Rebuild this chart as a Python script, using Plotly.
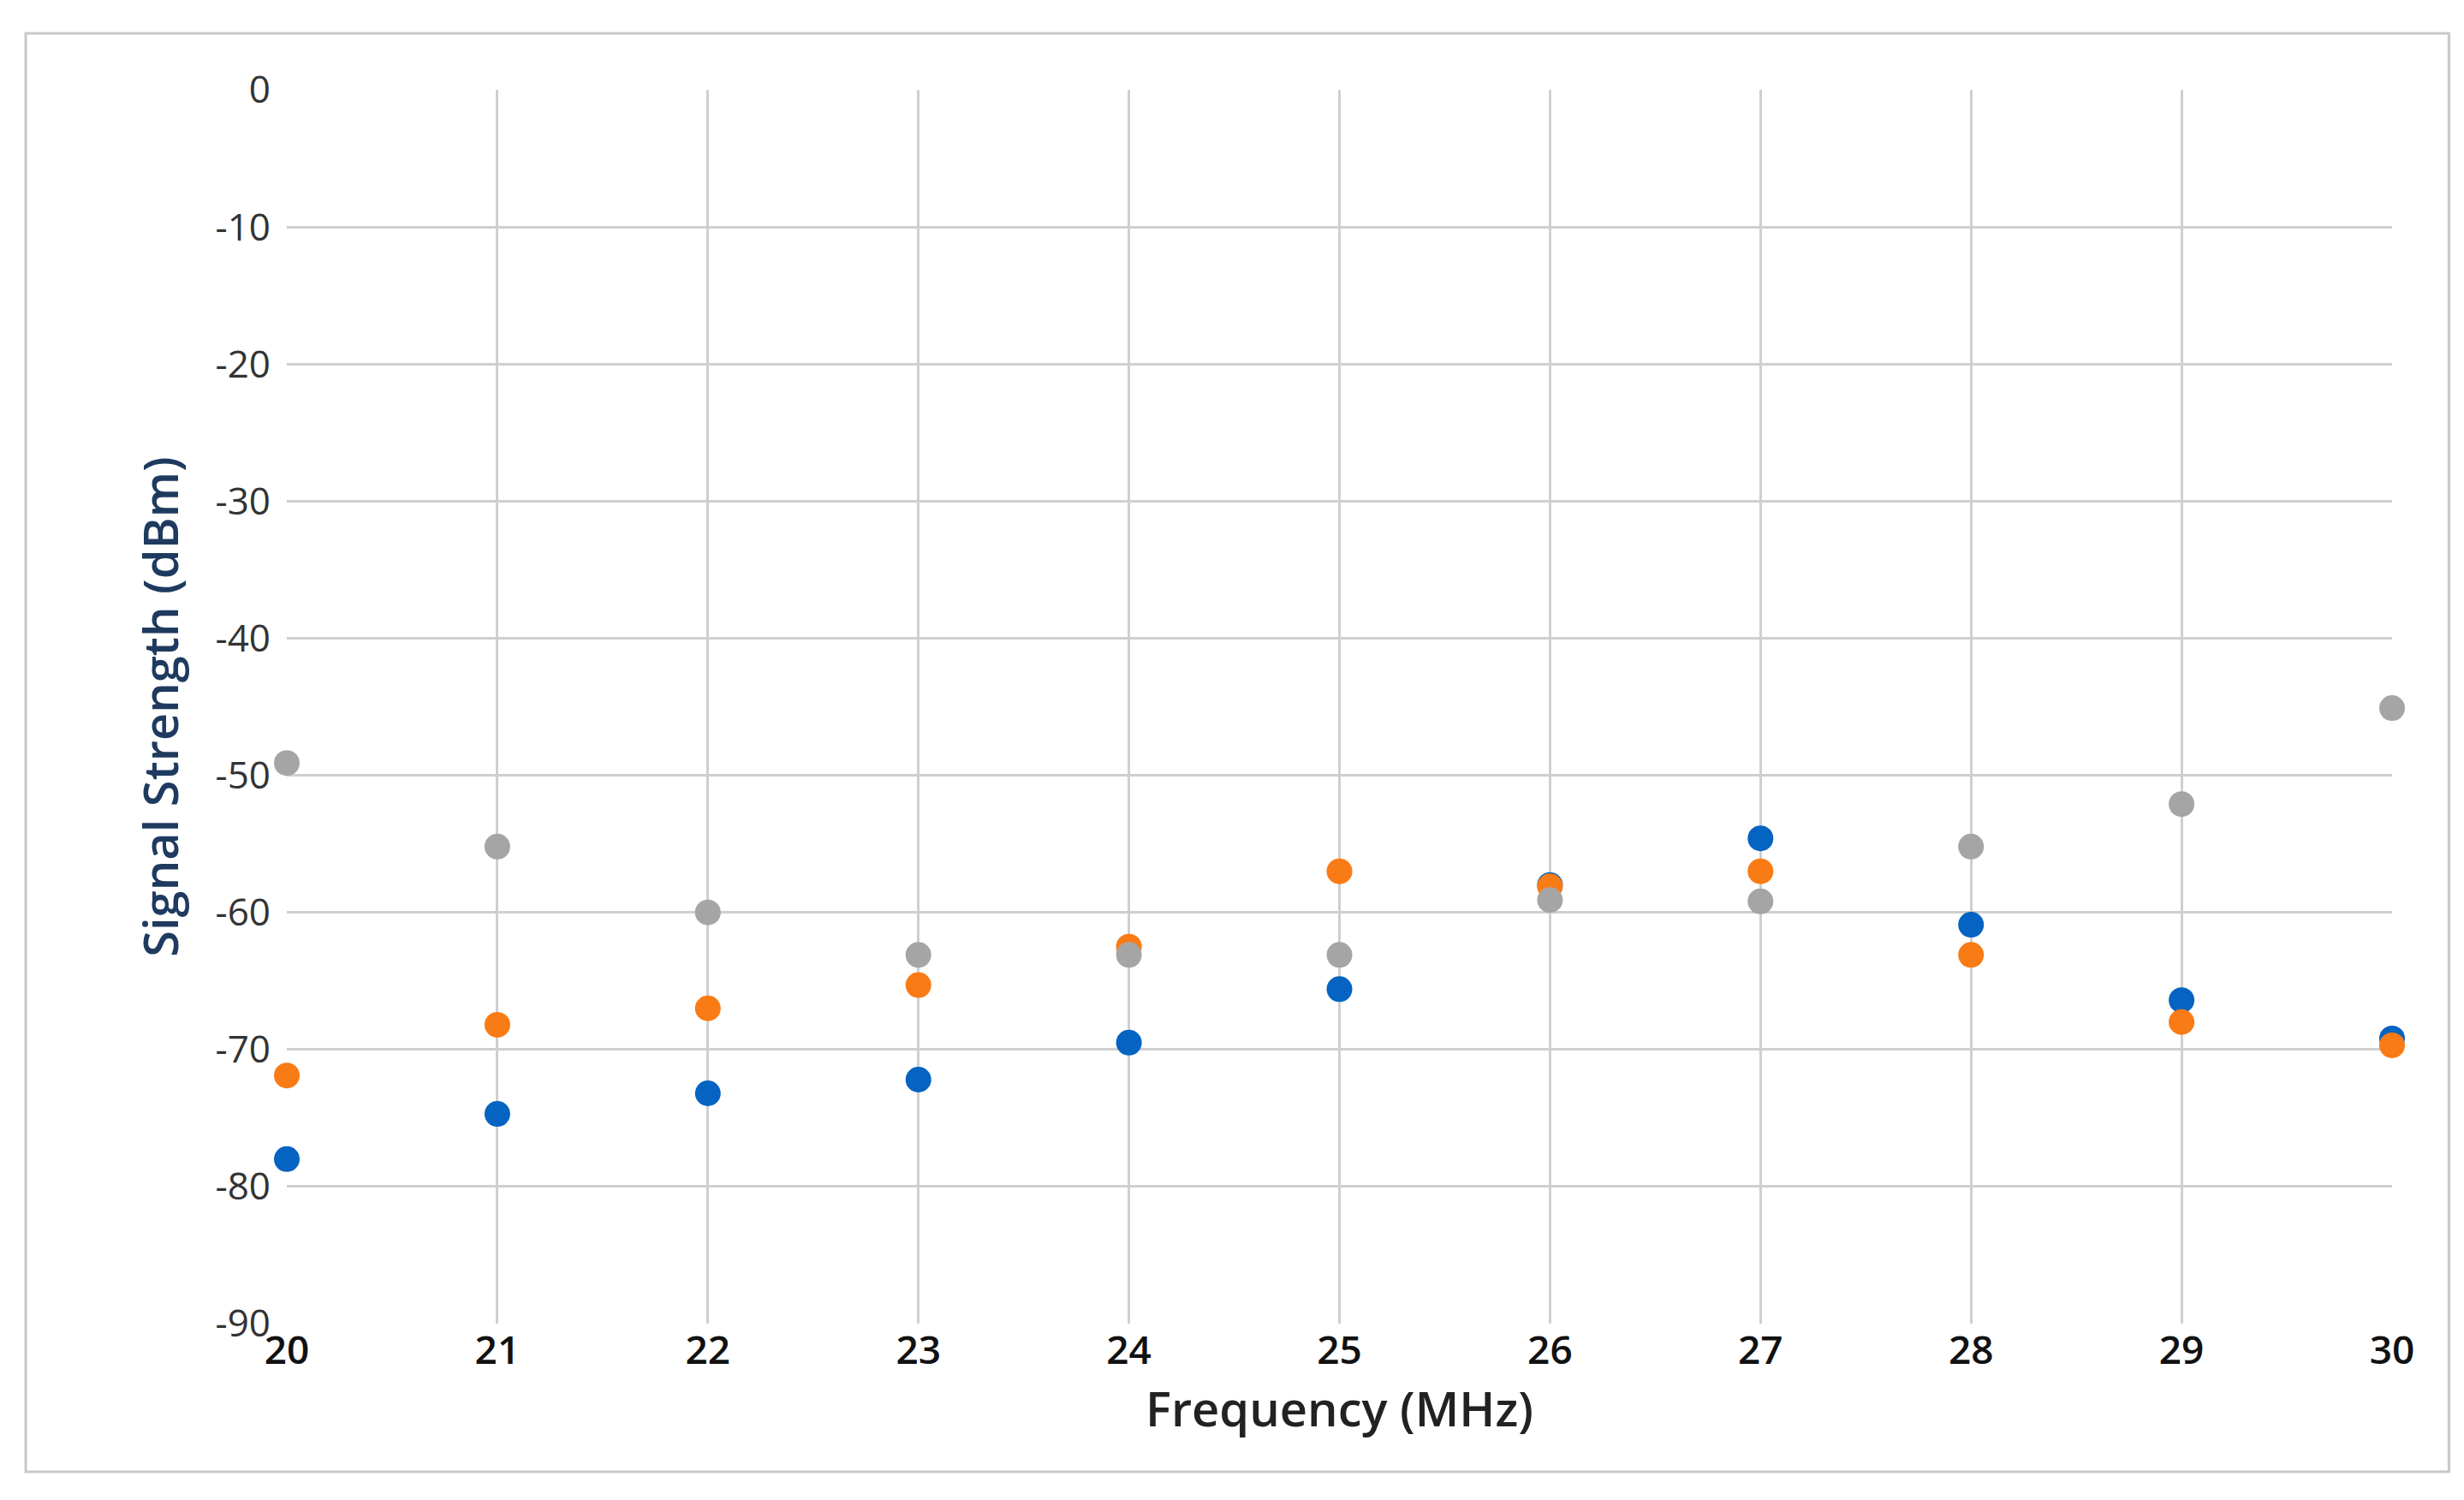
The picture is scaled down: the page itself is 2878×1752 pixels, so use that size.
import plotly.graph_objects as go

freq = [20, 21, 22, 23, 24, 25, 26, 27, 28, 29, 30]
blue = [-78.0, -74.7, -73.2, -72.2, -69.5, -65.6, -58.0, -54.6, -60.9, -66.4, -69.2]
orange = [-71.9, -68.2, -67.0, -65.3, -62.5, -57.0, -58.1, -57.0, -63.1, -68.0, -69.7]
gray = [-49.1, -55.2, -60.0, -63.1, -63.1, -63.1, -59.1, -59.2, -55.2, -52.1, -45.1]
xticks = list(range(20, 31))
yticks = list(range(0, -91, -10))
ytext = [str(v) for v in yticks]

fig = go.Figure()
for ys, c in [(blue, "#0563C1"), (orange, "#F97B16"), (gray, "#A5A5A5")]:
    fig.add_trace(go.Scatter(x=freq, y=ys, mode="markers",
                             marker=dict(color=c, size=30), showlegend=False, cliponaxis=False))

fig.update_layout(
    width=2878, height=1752,
    margin=dict(l=327, r=92, t=97, b=214),
    paper_bgcolor="white", plot_bgcolor="white",
    font=dict(family="Open Sans", color="#404040", size=44),
    xaxis=dict(range=[20, 30], tickvals=xticks, showgrid=True, gridcolor="#CFCFCF", gridwidth=3,
               zeroline=False, showline=False,
               title=dict(text="Frequency (MHz)", font=dict(size=56, color="#222222", weight=600), standoff=4),
               tickfont=dict(size=46, color="#111111", weight=600)),
    yaxis=dict(range=[-90, 0], tickvals=yticks, ticktext=ytext, showgrid=True, gridcolor="#CFCFCF", gridwidth=3,
               zeroline=False, showline=False, ticklabelstandoff=18,
               tickfont=dict(size=44, color="#333333"),
               title=dict(text="Signal Strength (dBm)", font=dict(size=56, color="#1F3A5F", weight=600), standoff=24)),
    shapes=[dict(type="rect", xref="paper", yref="paper", x0=-0.124, x1=1.027, y0=-0.120, y1=1.0458,
                 line=dict(color="#C8C8C8", width=3), layer="below")],
)
fig.write_html("out.html")
